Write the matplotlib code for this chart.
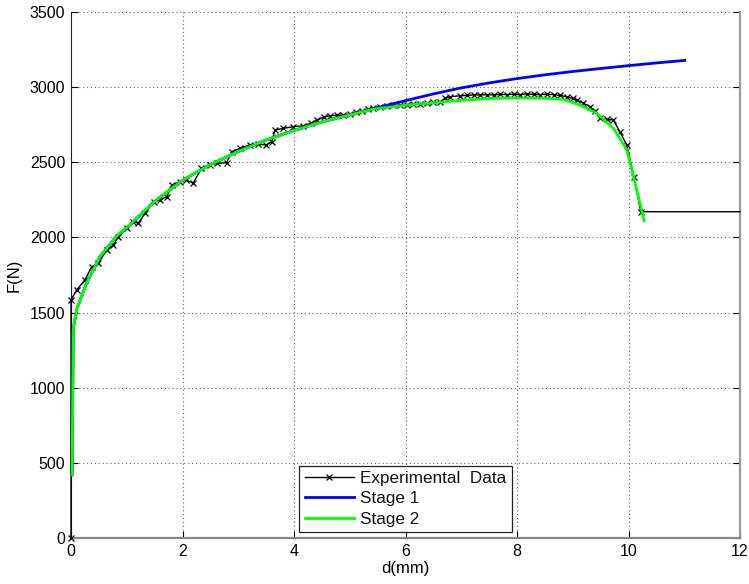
import matplotlib
matplotlib.use("Agg")
import matplotlib.pyplot as plt

plt.rcParams['font.family'] = ['Liberation Sans', 'DejaVu Sans']

# Experimental data (d in mm, F in N)
exp_d = [0, 0, 0.10, 0.25, 0.37, 0.49, 0.64, 0.76, 0.85, 1.00, 1.12, 1.21, 1.33, 1.48,
         1.60, 1.72, 1.81, 1.96, 2.07, 2.19, 2.34, 2.49, 2.61, 2.79, 2.88, 3.03, 3.21,
         3.36, 3.50, 3.60, 3.66, 3.81, 3.99, 4.17, 4.30, 4.41, 4.53, 4.65, 4.77, 4.88,
         5.00, 5.12, 5.22, 5.33, 5.42, 5.54, 5.66, 5.78, 5.90, 6.02, 6.14, 6.26, 6.38,
         6.50, 6.62, 6.71, 6.80, 6.98, 7.10, 7.22, 7.34, 7.46, 7.58, 7.70, 7.82, 7.94,
         8.06, 8.18, 8.30, 8.42, 8.54, 8.66, 8.78, 8.90, 9.00, 9.07, 9.18, 9.31, 9.40,
         9.49, 9.62, 9.73, 9.85, 9.97, 10.10, 10.22, 12.0]
exp_F = [0, 1584, 1650, 1717, 1805, 1828, 1916, 1950, 2005, 2061, 2105, 2094, 2162, 2238,
         2249, 2271, 2349, 2371, 2382, 2360, 2460, 2482, 2493, 2497, 2570, 2593, 2615,
         2621, 2615, 2637, 2715, 2726, 2737, 2743, 2760, 2781, 2800, 2810, 2812, 2815,
         2822, 2832, 2840, 2854, 2859, 2866, 2874, 2878, 2881, 2884, 2888, 2890, 2892,
         2898, 2903, 2925, 2936, 2943, 2945, 2948, 2948, 2950, 2948, 2952, 2950, 2953,
         2950, 2955, 2952, 2950, 2953, 2950, 2945, 2935, 2925, 2914, 2895, 2870, 2840,
         2792, 2785, 2781, 2700, 2615, 2400, 2171, 2171]

# Stage 1 model
s1_d = [0.02, 0.04, 0.10, 0.28, 0.52, 0.82, 1.00, 1.50, 2.00, 2.50, 3.00, 3.50, 4.00,
        4.50, 5.00, 5.50, 6.00, 6.50, 7.00, 7.50, 8.00, 8.50, 9.00, 9.50, 10.00, 10.50, 11.01]
s1_F = [420, 1390, 1517, 1697, 1872, 2010, 2065, 2240, 2380, 2485, 2572, 2648, 2712,
        2768, 2815, 2865, 2910, 2955, 2995, 3028, 3057, 3082, 3104, 3124, 3143, 3161, 3178]

# Stage 2 model
s2_d = [0.02, 0.04, 0.10, 0.28, 0.52, 0.82, 1.00, 1.50, 2.00, 2.50, 3.00, 3.50, 4.00,
        4.50, 5.00, 5.40, 6.00, 6.50, 7.00, 7.50, 8.00, 8.50, 8.83, 9.13, 9.43, 9.73,
        9.97, 10.09, 10.20, 10.28]
s2_F = [420, 1390, 1517, 1697, 1872, 2010, 2065, 2240, 2380, 2485, 2572, 2648, 2712,
        2768, 2815, 2852, 2880, 2896, 2912, 2924, 2928, 2926, 2918, 2881, 2826, 2726,
        2582, 2404, 2240, 2111]

xticks = [0, 2, 4, 6, 8, 10, 12]
yticks = [0, 500, 1000, 1500, 2000, 2500, 3000, 3500]

fig = plt.figure(figsize=(7.49, 5.84), dpi=100)
ax = fig.add_axes([71/749, 1 - 538/584, (740-71)/749, (538-12)/584])

ax.plot(exp_d, exp_F, color='black', lw=1.0, marker='x', ms=5, mew=0.9,
        markevery=list(range(len(exp_d) - 1)), label='Experimental  Data', clip_on=False, zorder=3)
ax.plot(s1_d, s1_F, color='#0000ff', lw=2.0, label='Stage 1', zorder=4)
ax.plot(s2_d, s2_F, color='#00ff00', lw=2.0, label='Stage 2', zorder=5)

ax.set_xlim(0, 12)
ax.set_ylim(0, 3500)
ax.set_xticks(xticks)
ax.set_yticks(yticks)
ax.grid(True, linestyle=(0, (1, 2.5)), color='#666666', linewidth=0.8)
ax.tick_params(direction='in', length=5, labelsize=11.5, right=True, pad=4)
ax.set_xlabel('d(mm)', fontsize=12, labelpad=2)
ax.set_ylabel('F(N)', fontsize=12, labelpad=6)

ax.spines['top'].set_visible(False)
ax.spines['left'].set_color('#222222')
ax.spines['bottom'].set_color('#888888')
ax.spines['bottom'].set_linewidth(1.6)
ax.spines['right'].set_color('#999999')
ax.spines['right'].set_linewidth(1.6)

leg = ax.legend(loc='lower center', bbox_to_anchor=(0.5, 0.012), borderaxespad=0,
                fontsize=12.3, fancybox=False, framealpha=1, edgecolor='#222222',
                handlelength=2.9, handletextpad=0.35, labelspacing=0.3,
                borderpad=0.3)
leg.get_frame().set_linewidth(0.9)
for t in leg.get_texts():
    t.set_color('#111111')

fig.savefig('out.png', dpi=100)
